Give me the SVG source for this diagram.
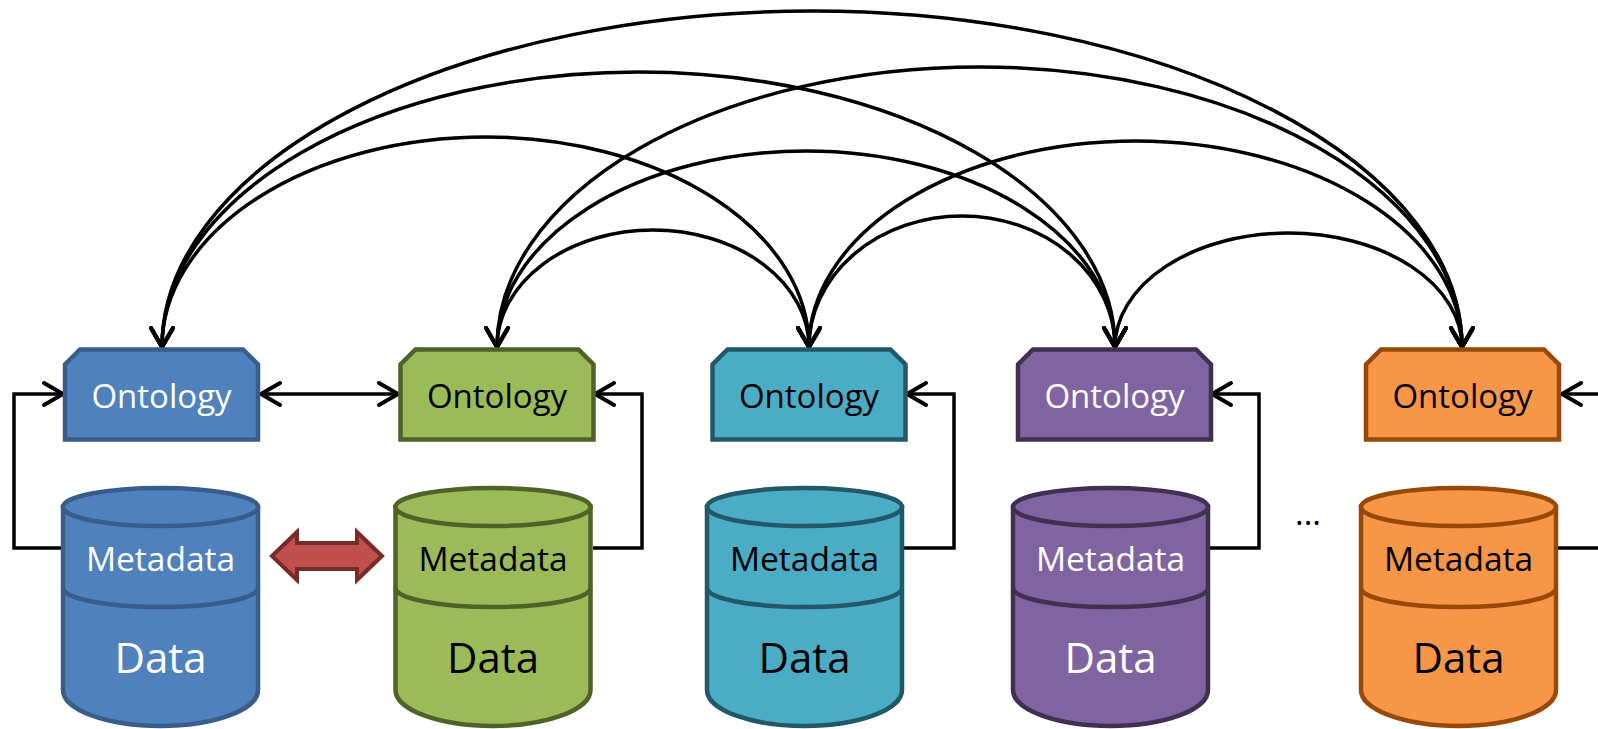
<svg xmlns="http://www.w3.org/2000/svg" width="1598" height="729" viewBox="0 0 1598 729">
<style>
.ont{stroke-width:4.5;stroke-linejoin:miter}
.cyl{stroke-width:4.5}
.lbl{font-family:"Open Sans","Noto Sans","Liberation Sans",sans-serif;font-size:33px;text-anchor:middle}
.md{font-size:33.5px}
.big{font-size:42px}
.w{fill:#FFFFFF}
.k{fill:#000000}
.con{fill:none;stroke:#000;stroke-width:3.5}
.blue{fill:#4F81BD;stroke:#385D8A}
.green{fill:#9BBB59;stroke:#4F6228}
.aqua{fill:#4BACC6;stroke:#215968}
.purple{fill:#8064A2;stroke:#403152}
.orange{fill:#F79646;stroke:#984807}
</style>
<defs>
<marker id="ah" markerUnits="userSpaceOnUse" viewBox="-24 -14 28 28" refX="0" refY="0" markerWidth="28" markerHeight="28" orient="auto-start-reverse">
<path d="M-19,-11 L0,0 L-19,11" fill="none" stroke="#000" stroke-width="4" stroke-linecap="round"/>
</marker>
</defs>
<rect width="1598" height="729" fill="#FFFFFF"/>

<g id="connectors">
<path class="con" marker-start="url(#ah)" marker-end="url(#ah)" d="M162,347 A650,336 0 0 1 1462,347"/>
<path class="con" marker-start="url(#ah)" marker-end="url(#ah)" d="M162,347 A476.5,275 0 0 1 1115,347"/>
<path class="con" marker-start="url(#ah)" marker-end="url(#ah)" d="M162,347 A323.5,210 0 0 1 809,347"/>
<path class="con" marker-start="url(#ah)" marker-end="url(#ah)" d="M497,347 A156,117 0 0 1 809,347"/>
<path class="con" marker-start="url(#ah)" marker-end="url(#ah)" d="M497,347 A309,196 0 0 1 1115,347"/>
<path class="con" marker-start="url(#ah)" marker-end="url(#ah)" d="M497,347 A482.5,280 0 0 1 1462,347"/>
<path class="con" marker-start="url(#ah)" marker-end="url(#ah)" d="M809,347 A153,131 0 0 1 1115,347"/>
<path class="con" marker-start="url(#ah)" marker-end="url(#ah)" d="M809,347 A326.5,206 0 0 1 1462,347"/>
<path class="con" marker-start="url(#ah)" marker-end="url(#ah)" d="M1115,347 A173.5,114 0 0 1 1462,347"/>
<path class="con" marker-start="url(#ah)" marker-end="url(#ah)" d="M261,394 H398"/>
<path class="con" marker-end="url(#ah)" d="M61,548 H14 V394 H63"/>
<path class="con" marker-end="url(#ah)" d="M593,548 H642 V394 H595"/>
<path class="con" marker-end="url(#ah)" d="M903,548 H954 V394 H907"/>
<path class="con" marker-end="url(#ah)" d="M1210,548 H1259 V394 H1212"/>
<path class="con" d="M1557,548 H1600"/>
<path class="con" marker-end="url(#ah)" d="M1600,394 H1562"/>
</g>

<g id="metadata-link">
<polygon points="272,556 297,532 297,543 357,543 357,532 382,556 357,580 357,569 297,569 297,580" fill="#C0504D" stroke="#772C2A" stroke-width="4" stroke-linejoin="miter"/>
</g>

<g id="ontology-1">
<path class="ont blue" d="M80,349.5 H243 L258,364.5 V439.5 H65 V364.5 Z"/>
<text class="lbl w" x="161.5" y="408">Ontology</text>
</g>
<g id="ontology-2">
<path class="ont green" d="M415.5,349.5 H578.5 L593.5,364.5 V439.5 H400.5 V364.5 Z"/>
<text class="lbl k" x="497" y="408">Ontology</text>
</g>
<g id="ontology-3">
<path class="ont aqua" d="M727.5,349.5 H890.5 L905.5,364.5 V439.5 H712.5 V364.5 Z"/>
<text class="lbl k" x="809" y="408">Ontology</text>
</g>
<g id="ontology-4">
<path class="ont purple" d="M1033,349.5 H1196 L1211,364.5 V439.5 H1018 V364.5 Z"/>
<text class="lbl w" x="1114.5" y="408">Ontology</text>
</g>
<g id="ontology-5">
<path class="ont orange" d="M1381,349.5 H1544 L1559,364.5 V439.5 H1366 V364.5 Z"/>
<text class="lbl k" x="1462.5" y="408">Ontology</text>
</g>

<g id="database-1">
<path class="cyl blue" d="M63,507 V690 A97.5,36 0 0 0 258,690 V507 Z"/>
<ellipse class="cyl blue" cx="160.5" cy="507" rx="97.5" ry="19"/>
<path class="cyl blue" d="M63,588 A97.5,19 0 0 0 258,588" style="fill:none"/>
<text class="lbl md w" x="160.5" y="571">Metadata</text>
<text class="lbl big w" x="160.5" y="673">Data</text>
</g>
<g id="database-2">
<path class="cyl green" d="M395.5,507 V690 A97.5,36 0 0 0 590.5,690 V507 Z"/>
<ellipse class="cyl green" cx="493" cy="507" rx="97.5" ry="19"/>
<path class="cyl green" d="M395.5,588 A97.5,19 0 0 0 590.5,588" style="fill:none"/>
<text class="lbl md k" x="493" y="571">Metadata</text>
<text class="lbl big k" x="493" y="673">Data</text>
</g>
<g id="database-3">
<path class="cyl aqua" d="M707,507 V690 A97.5,36 0 0 0 902,690 V507 Z"/>
<ellipse class="cyl aqua" cx="804.5" cy="507" rx="97.5" ry="19"/>
<path class="cyl aqua" d="M707,588 A97.5,19 0 0 0 902,588" style="fill:none"/>
<text class="lbl md k" x="804.5" y="571">Metadata</text>
<text class="lbl big k" x="804.5" y="673">Data</text>
</g>
<g id="database-4">
<path class="cyl purple" d="M1013,507 V690 A97.5,36 0 0 0 1208,690 V507 Z"/>
<ellipse class="cyl purple" cx="1110.5" cy="507" rx="97.5" ry="19"/>
<path class="cyl purple" d="M1013,588 A97.5,19 0 0 0 1208,588" style="fill:none"/>
<text class="lbl md w" x="1110.5" y="571">Metadata</text>
<text class="lbl big w" x="1110.5" y="673">Data</text>
</g>
<g id="database-5">
<path class="cyl orange" d="M1361,507 V690 A97.5,36 0 0 0 1556,690 V507 Z"/>
<ellipse class="cyl orange" cx="1458.5" cy="507" rx="97.5" ry="19"/>
<path class="cyl orange" d="M1361,588 A97.5,19 0 0 0 1556,588" style="fill:none"/>
<text class="lbl md k" x="1458.5" y="571">Metadata</text>
<text class="lbl big k" x="1458.5" y="673">Data</text>
</g>

<text class="lbl k" x="1308" y="525">...</text>
</svg>
